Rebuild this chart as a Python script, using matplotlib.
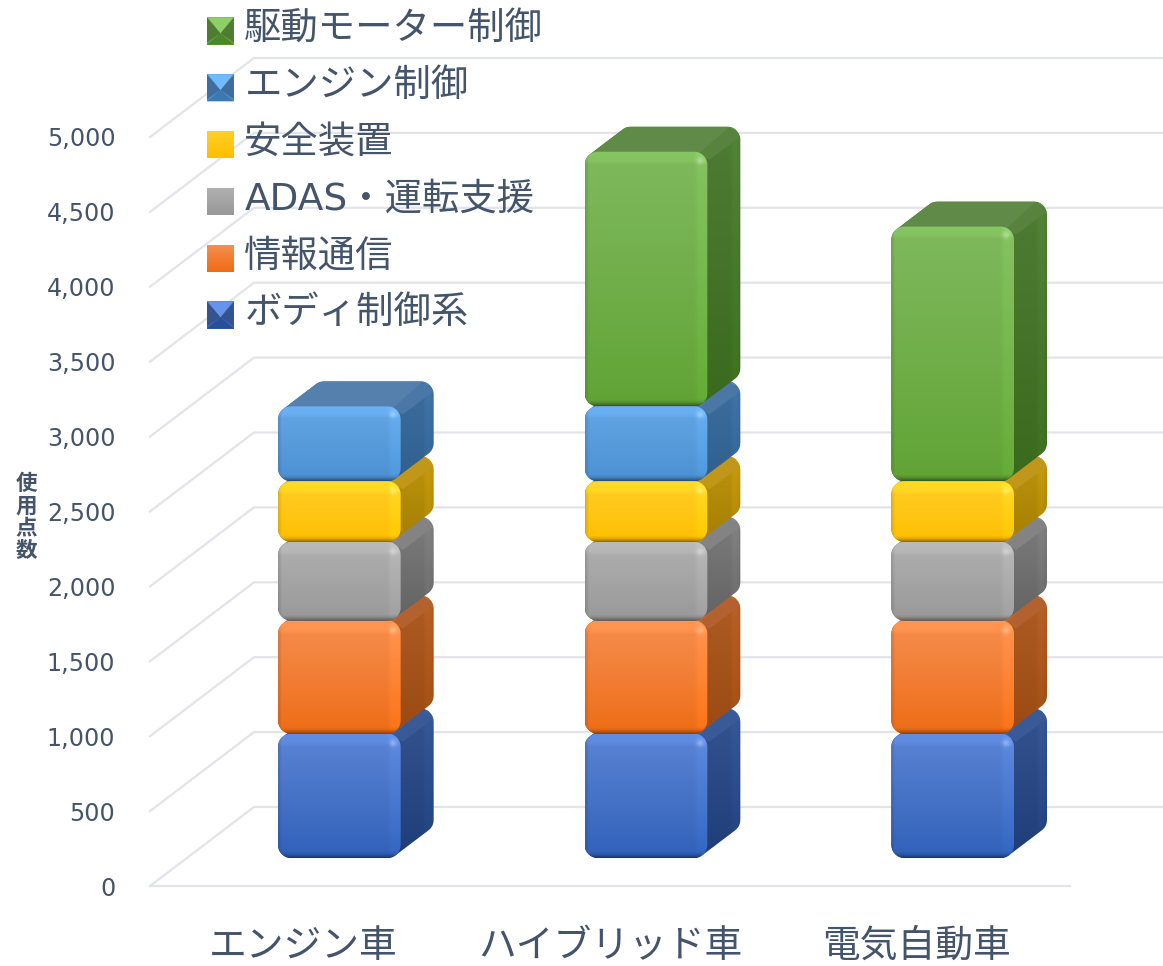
import numpy as np

import matplotlib
matplotlib.use('Agg')
import matplotlib.pyplot as plt
from matplotlib import ticker
from matplotlib.colors import to_rgb
from matplotlib.legend_handler import HandlerBase
from matplotlib.lines import Line2D
from matplotlib.patches import Patch, PathPatch, Polygon, Rectangle
from matplotlib.path import Path
from matplotlib.transforms import IdentityTransform

plt.rcParams['font.family'] = ['DejaVu Sans', 'Noto Sans CJK JP']

categories = ['エンジン車', 'ハイブリッド車', '電気自動車']
series_names = ['ボディ制御系', '情報通信', 'ADAS・運転支援', '安全装置', 'エンジン制御', '駆動モーター制御']
body = [830, 830, 830]
info = [755, 755, 755]
adas = [525, 525, 525]
safety = [405, 405, 405]
engine = [500, 500, 0]
motor = [0, 1700, 1700]
series_values = [body, info, adas, safety, engine, motor]
y_ticks = [0, 500, 1000, 1500, 2000, 2500, 3000, 3500, 4000, 4500, 5000]

TEXT = '#44546A'
GRID = '#E3E4EA'
# front top, front bottom, side top, side bottom, top face
shades = [
    ('#5B84D4', '#2F60B8', '#35548F', '#1F3D78', '#3F5F9F'),
    ('#F58D4E', '#EE6C14', '#AE5C24', '#9A4A12', '#B8683A'),
    ('#AFAFAF', '#989898', '#7C7C7C', '#636363', '#8A8A8A'),
    ('#FFCE26', '#FFBE00', '#BD9410', '#A67F00', '#C29A20'),
    ('#64A6E4', '#4A90D2', '#3F6E9E', '#2F6090', '#5580AD'),
    ('#7FB95D', '#60A334', '#4F7C34', '#3A6A1E', '#5F8A48'),
]
pyramid = [True, False, False, False, True, True]

WALL_DX, WALL_DY = 104, 79
BAR_DX, BAR_DY = 36, 28
DEPTH_DX, DEPTH_DY = 33, 25
BAR_WIDTH = 0.4
RADIUS = 13


fig = plt.figure(figsize=(11.63, 9.66), dpi=100)
ax = fig.add_axes([150 / 1163, (966 - 886) / 966, 920 / 1163, 749 / 966])
ax.set_xlim(-0.5, 2.5)
ax.set_ylim(0, 5000)
for spine in ax.spines.values():
    spine.set_visible(False)
ax.patch.set_visible(False)

ax.set_xticks(range(len(categories)), categories)
ax.set_yticks(y_ticks)
ax.yaxis.set_major_formatter(ticker.StrMethodFormatter('{x:,.0f}'))
ax.tick_params(axis='x', length=0, pad=31, labelsize=27.2, labelcolor=TEXT)
ax.tick_params(axis='y', length=0, pad=25, labelsize=17.1, labelcolor=TEXT)
ax.set_ylabel('使\n用\n点\n数', rotation=0, ha='center', va='center', color=TEXT,
              family='Noto Sans CJK JP', fontsize=15.5, fontweight='bold', linespacing=1.06)
ax.yaxis.set_label_coords((26 - 150) / 920, (886 - 517) / 749)


def lerp(a, b, t):
    return np.asarray(a) + (np.asarray(b) - np.asarray(a)) * t


def rounded_points(x0, y0, x1, y1, r):
    pts = []
    corners = [(x1 - r, y1 - r, 0), (x0 + r, y1 - r, 90), (x0 + r, y0 + r, 180), (x1 - r, y0 + r, 270)]
    for cx, cy, start in corners:
        for a in np.radians(np.linspace(start, start + 90, 9)):
            pts.append((cx + r * np.cos(a), cy + r * np.sin(a)))
    return pts


def hull(points):
    pts = sorted(set(points))

    def half(seq):
        out = []
        for p in seq:
            while len(out) > 1 and ((out[-1][0] - out[-2][0]) * (p[1] - out[-2][1])
                                    - (out[-1][1] - out[-2][1]) * (p[0] - out[-2][0])) <= 0:
                out.pop()
            out.append(p)
        return out[:-1]

    return half(pts) + half(pts[::-1])


def closed(points):
    return Path(np.array(points + [points[0]]))


def show(rgb, x0, y0, x1, y1, clip, zorder):
    im = ax.imshow(np.clip(rgb, 0, 1), extent=(x0, x1, y0, y1), origin='lower', aspect='auto',
                   transform=IdentityTransform(), zorder=zorder, interpolation='bilinear')
    im.set_clip_path(clip, IdentityTransform())
    im.set_clip_box(fig.bbox)


def draw_segment(x0, y0, x1, y1, shade, zorder):
    front_top, front_bot, side_top, side_bot, top_face = [np.array(to_rgb(c)) for c in shade]
    dx, dy = DEPTH_DX, DEPTH_DY
    front = rounded_points(x0, y0, x1, y1, RADIUS)
    back = rounded_points(x0 + dx, y0 + dy, x1 + dx, y1 + dy, RADIUS)
    outline = closed(hull(front + back))

    # right side
    xs = np.arange(x0, x1 + dx + 1.0)
    ys = np.arange(y0, y1 + dy + 1.0)
    gx, gy = np.meshgrid(xs, ys)
    t = ((gy - y0) / max(y1 + dy - y0, 1))[..., None]
    side = lerp(side_bot, side_top, t)
    band = np.clip(1 - (x1 + dx - gx) / 10, 0, 1)[..., None]
    side = side * (1 + 0.06 * band * (1 - band) * 4)
    shadow = np.clip(1 - (gy - (y0 + (gx - x1) * dy / dx)) / 5, 0, 1)[..., None]
    side = side * (1 - 0.22 * shadow)
    show(side, xs[0], ys[0], xs[-1], ys[-1], outline, zorder)

    # top face, with the lighter ridge running back from the front corner
    ax.add_patch(Polygon([(x0 + 6, y1 - 4), (x1 - 4, y1 - 4), (x1 + dx, y1 + dy), (x0 + dx, y1 + dy)],
                         closed=True, facecolor=top_face, edgecolor='none', zorder=zorder + 0.1,
                         transform=IdentityTransform(), clip_path=PathPatch(outline, transform=IdentityTransform())))
    ridge = lerp(top_face, side_top, 0.5)
    ax.add_patch(Polygon([(x1 - 8, y1 - 2), (x1 + 2, y1 - 8), (x1 + dx, y1 + dy - 10), (x1 + dx - 11, y1 + dy)],
                         closed=True, facecolor=np.clip(ridge, 0, 1), edgecolor='none', zorder=zorder + 0.2,
                         transform=IdentityTransform(), clip_path=PathPatch(outline, transform=IdentityTransform())))

    # front face
    xs = np.arange(x0, x1 + 1.0)
    ys = np.arange(y0, y1 + 1.0)
    gx, gy = np.meshgrid(xs, ys)
    t = ((gy - y0) / max(y1 - y0, 1))[..., None]
    face = lerp(front_bot, front_top, np.clip(t, 0, 1) ** 0.9)
    to_top = np.clip(1 - (y1 - gy) / 13, 0, 1)[..., None]
    to_right = np.clip(1 - (x1 - gx) / 13, 0, 1)[..., None]
    to_left = np.clip(1 - (gx - x0) / 4, 0, 1)[..., None]
    to_bottom = np.clip(1 - (gy - y0) / 7, 0, 1)[..., None]
    face = face * (1 + 0.06 * np.clip(to_top * 3, 0, 1))
    face = face * (1 + 0.05 * np.clip(to_right * 3, 0, 1) * (1 - to_bottom))
    face = face * (1 - 0.12 * to_left)
    face = face * (1 - 0.42 * to_bottom ** 2)
    spot = np.exp(-((gx - (x1 - 7)) ** 2 + (gy - (y1 - 9)) ** 2) / 12)[..., None]
    face = lerp(face, np.ones(3), 0.3 * spot)
    show(face, xs[0], ys[0], xs[-1], ys[-1], closed(front), zorder + 0.3)


class SwatchHandler(HandlerBase):
    def __init__(self, shade, bevelled):
        super().__init__()
        self.shade = [np.array(to_rgb(c)) for c in shade]
        self.bevelled = bevelled

    def create_artists(self, legend, orig_handle, xdescent, ydescent, width, height, fontsize, trans):
        x0, y0 = -xdescent, -ydescent - 4
        x1, y1 = x0 + width, y0 + width
        xm, ym = (x0 + x1) / 2, y0 + 0.42 * width
        artists = []
        steps = 14
        for i in range(steps):
            c = lerp(self.shade[1], self.shade[0], i / (steps - 1))
            artists.append(Rectangle((x0, y0 + i * width / steps), width, width / steps + 0.2,
                                     facecolor=c, edgecolor='none', transform=trans))
        if self.bevelled:
            top = np.clip(self.shade[0] * 1.12, 0, 1)
            artists.append(Polygon([(x0, y1), (xm, ym), (x0, y0 + 0.08 * width)],
                                   facecolor=self.shade[2], edgecolor='none', transform=trans))
            artists.append(Polygon([(x1, y1), (xm, ym), (x1, y0 + 0.08 * width)],
                                   facecolor=self.shade[2], edgecolor='none', transform=trans))
            artists.append(Polygon([(x0, y0), (x1, y0), (xm, ym)],
                                   facecolor=lerp(self.shade[1], self.shade[3], 0.5), edgecolor='none', transform=trans))
            artists.append(Polygon([(x0 + 0.05 * width, y1), (x1 - 0.05 * width, y1), (xm, ym)],
                                   facecolor=top, edgecolor='none', transform=trans))
        return artists


# floor and walls
for v in y_ticks:
    fx, fy = ax.transData.transform((-0.5, v))
    end_x = 1174
    ax.add_line(Line2D([fx, fx + WALL_DX, end_x], [fy, fy + WALL_DY, fy + WALL_DY], color=GRID, lw=1.6,
                       transform=IdentityTransform(), clip_on=False, zorder=1))
fx0, fy0 = ax.transData.transform((-0.5, 0))
fx1, fy1 = ax.transData.transform((2.5, 0))
ax.add_line(Line2D([fx0, fx1], [fy0, fy1], color=GRID, lw=1.6, transform=IdentityTransform(),
                   clip_on=False, zorder=1))

# stacked columns, lowest segment first so each one overlaps the one below
for i in range(len(categories)):
    bottom = 0
    for j, values in enumerate(series_values):
        if values[i] == 0:
            continue
        x0, y0 = ax.transData.transform((i - BAR_WIDTH / 2, bottom))
        x1, y1 = ax.transData.transform((i + BAR_WIDTH / 2, bottom + values[i]))
        draw_segment(x0 + BAR_DX, y0 + BAR_DY, x1 + BAR_DX, y1 + BAR_DY, shades[j], 2 + j)
        bottom += values[i]

handles = [Patch(label=name) for name in series_names][::-1]
handler_map = {h: SwatchHandler(shades[5 - k], pyramid[5 - k]) for k, h in enumerate(handles)}
legend = ax.legend(handles=handles, handler_map=handler_map, loc='upper left',
                   bbox_to_anchor=(207 / 1163, 1 - 10 / 966), bbox_transform=fig.transFigure,
                   frameon=False, fontsize=26.9, labelcolor=TEXT, borderpad=0, borderaxespad=0,
                   handlelength=0.72, handleheight=0.7, handletextpad=0.28, labelspacing=0.53)
legend.set_zorder(20)

fig.savefig('out.png', dpi=100)
